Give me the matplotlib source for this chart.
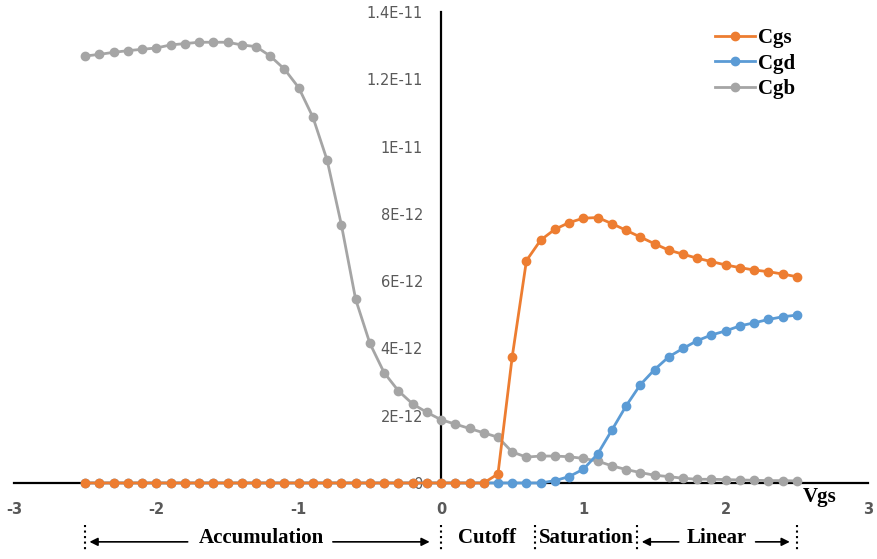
import matplotlib
matplotlib.use("Agg")
import matplotlib.pyplot as plt
from matplotlib.ticker import FixedLocator, FixedFormatter

plt.rcParams["axes.unicode_minus"] = False

# gate voltage sweep (V)
vgs = [-2.5, -2.4, -2.3, -2.2, -2.1, -2.0, -1.9, -1.8, -1.7, -1.6,
       -1.5, -1.4, -1.3, -1.2, -1.1, -1.0, -0.9, -0.8, -0.7, -0.6,
       -0.5, -0.4, -0.3, -0.2, -0.1, 0.0, 0.1, 0.2, 0.3, 0.4,
       0.5, 0.6, 0.7, 0.8, 0.9, 1.0, 1.1, 1.2, 1.3, 1.4,
       1.5, 1.6, 1.7, 1.8, 1.9, 2.0, 2.1, 2.2, 2.3, 2.4, 2.5]

# capacitances (x1e-12 F)
cgs = [0.0] * 29 + [0.27, 3.75, 6.61, 7.22, 7.54, 7.74, 7.87, 7.89, 7.71, 7.51,
                    7.31, 7.11, 6.92, 6.80, 6.68, 6.58, 6.48, 6.40, 6.33, 6.28,
                    6.21, 6.13]
cgd = [0.0] * 33 + [0.07, 0.19, 0.41, 0.86, 1.57, 2.29, 2.92, 3.37, 3.75, 4.00,
                    4.23, 4.40, 4.52, 4.67, 4.76, 4.86, 4.94, 4.99]
cgb = [12.69, 12.74, 12.80, 12.85, 12.89, 12.93, 13.02, 13.06, 13.10, 13.10,
       13.10, 13.02, 12.97, 12.69, 12.30, 11.75, 10.87, 9.59, 7.67, 5.46,
       4.15, 3.28, 2.74, 2.35, 2.10, 1.88, 1.75, 1.62, 1.49, 1.36,
       0.92, 0.77, 0.80, 0.80, 0.78, 0.73, 0.65, 0.51, 0.40, 0.31,
       0.23, 0.19, 0.14, 0.11, 0.11, 0.10, 0.09, 0.08, 0.07, 0.07, 0.06]

xticks = [-3, -2, -1, 0, 1, 2, 3]
yticks = [0, 2e-12, 4e-12, 6e-12, 8e-12, 1e-11, 1.2e-11, 1.4e-11]
ytick_labels = ["0", "2E-12", "4E-12", "6E-12", "8E-12", "1E-11", "1.2E-11", "1.4E-11"]

# operating regions below the axis
region_edges = [-2.5, 0.0, 0.66, 1.38, 2.5]

serif = "Liberation Serif"

fig = plt.figure(figsize=(8.77, 5.59), dpi=100)
ax = fig.add_axes([0.016, 0.136, 0.9738, 0.8426])

scale = 1e-12
ax.plot(vgs, [v * scale for v in cgb], color="#A5A5A5", lw=2, marker="o", ms=6,
        label="Cgb", zorder=3, clip_on=False)
ax.plot(vgs, [v * scale for v in cgd], color="#5B9BD5", lw=2, marker="o", ms=6,
        label="Cgd", zorder=4, clip_on=False)
ax.plot(vgs, [v * scale for v in cgs], color="#ED7D31", lw=2, marker="o", ms=6,
        label="Cgs", zorder=5, clip_on=False)

ax.set_xlim(-3, 3)
ax.set_ylim(0, 1.4e-11)

for s in ["top", "right"]:
    ax.spines[s].set_visible(False)
ax.spines["left"].set_position(("data", 0))
ax.spines["left"].set_linewidth(1.6)
ax.spines["bottom"].set_linewidth(1.6)
ax.spines["left"].set_zorder(2)
ax.spines["bottom"].set_zorder(2)

ax.xaxis.set_major_locator(FixedLocator(xticks))
ax.yaxis.set_major_locator(FixedLocator(yticks))
ax.yaxis.set_major_formatter(FixedFormatter(ytick_labels))
ax.tick_params(axis="y", length=0, pad=13, labelsize=10.5, labelcolor="#595959")
ax.tick_params(axis="x", length=0, pad=14, labelsize=10.5, labelcolor="#595959")
for t in ax.get_xticklabels():
    t.set_fontweight("bold")

# legend order as in the reference
h, l = ax.get_legend_handles_labels()
leg = ax.legend(h[::-1], l[::-1], loc="upper left", bbox_to_anchor=(0.821, 0.965),
                frameon=False, borderpad=0, borderaxespad=0, handlelength=1.9,
                handletextpad=0.15, labelspacing=0.25,
                prop={"family": serif, "weight": "bold", "size": 15})

trans = ax.get_xaxis_transform()
ax.text(2.66, -0.03, "Vgs", transform=trans, ha="center", va="center",
        family=serif, weight="bold", fontsize=15)

# region boundaries
for e in region_edges:
    ax.plot([e, e], [-0.089, -0.147], transform=trans, color="black", ls=":",
            lw=1.5, clip_on=False)

ty = -0.117
ay = -0.125
ax.text(-1.26, ty, "Accumulation", transform=trans, ha="center", va="center",
        family=serif, weight="bold", fontsize=15)
ax.text(0.32, ty, "Cutoff", transform=trans, ha="center", va="center",
        family=serif, weight="bold", fontsize=15)
ax.text(1.02, ty, "Saturation", transform=trans, ha="center", va="center",
        family=serif, weight="bold", fontsize=15)
ax.text(1.94, ty, "Linear", transform=trans, ha="center", va="center",
        family=serif, weight="bold", fontsize=15)

arrows = [(-1.78, -2.47), (-0.76, -0.08), (1.67, 1.41), (2.21, 2.45)]
for a0, a1 in arrows:
    ax.annotate("", xy=(a1, ay), xytext=(a0, ay), xycoords=trans, textcoords=trans,
                arrowprops=dict(arrowstyle="-|>", color="black", lw=1.2,
                                mutation_scale=12, shrinkA=0, shrinkB=0))

fig.savefig("out.png", dpi=100)
